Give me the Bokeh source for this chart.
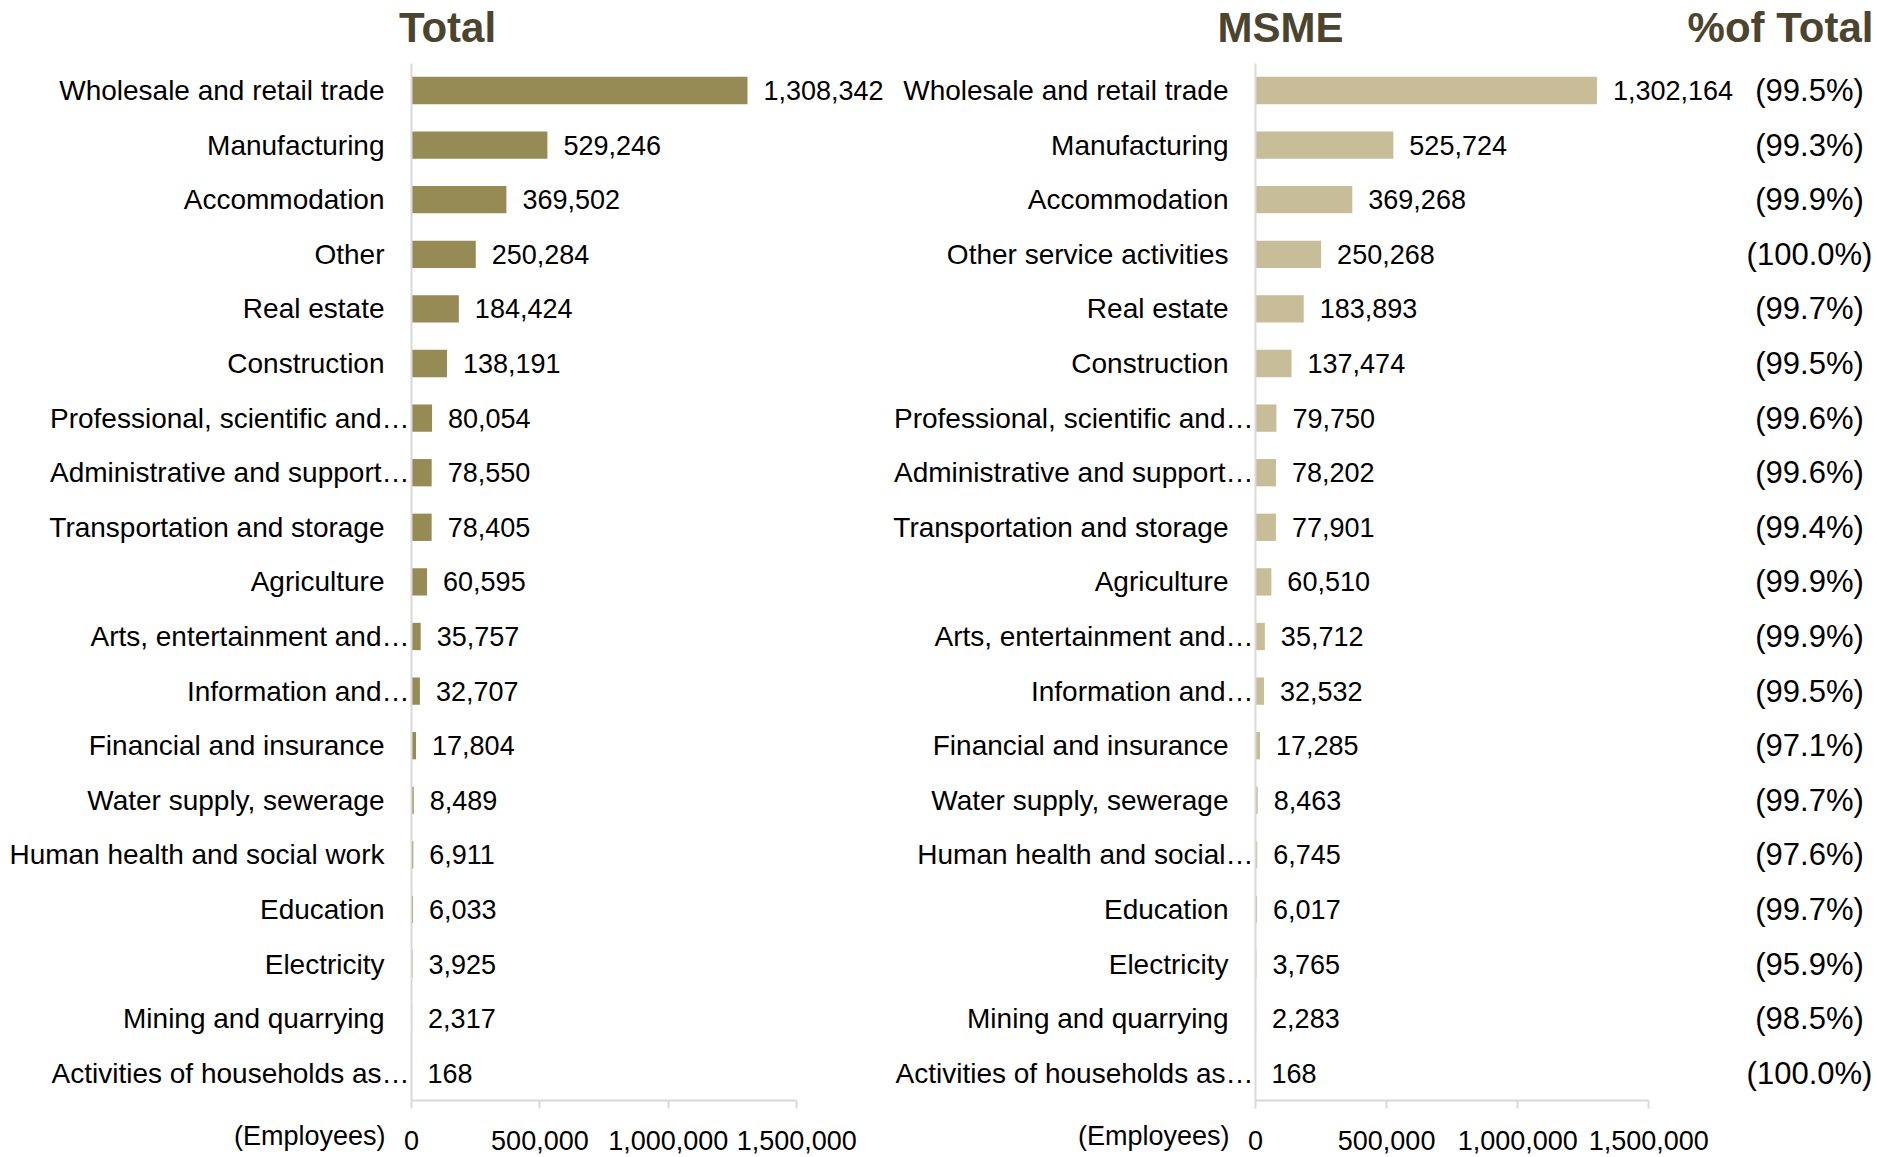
from bokeh.plotting import figure
from bokeh.models import ColumnDataSource, Range1d, FixedTicker, NumeralTickFormatter
from bokeh.layouts import row
from bokeh.embed import file_html
from bokeh.resources import INLINE
from bokeh.core.properties import value

# ---------------- data ----------------
categories_total = [
    "Wholesale and retail trade", "Manufacturing", "Accommodation", "Other",
    "Real estate", "Construction", "Professional, scientific and…",
    "Administrative and support…", "Transportation and storage", "Agriculture",
    "Arts, entertainment and…", "Information and…", "Financial and insurance",
    "Water supply, sewerage", "Human health and social work", "Education",
    "Electricity", "Mining and quarrying", "Activities of households as…",
]
categories_msme = [
    "Wholesale and retail trade", "Manufacturing", "Accommodation", "Other service activities",
    "Real estate", "Construction", "Professional, scientific and…",
    "Administrative and support…", "Transportation and storage", "Agriculture",
    "Arts, entertainment and…", "Information and…", "Financial and insurance",
    "Water supply, sewerage", "Human health and social…", "Education",
    "Electricity", "Mining and quarrying", "Activities of households as…",
]
total_employees = [1308342, 529246, 369502, 250284, 184424, 138191, 80054, 78550, 78405,
                   60595, 35757, 32707, 17804, 8489, 6911, 6033, 3925, 2317, 168]
msme_employees = [1302164, 525724, 369268, 250268, 183893, 137474, 79750, 78202, 77901,
                  60510, 35712, 32532, 17285, 8463, 6745, 6017, 3765, 2283, 168]
x_ticks = [0, 500000, 1000000, 1500000]
panel_titles = ["Total", "MSME", "%of Total"]
unit_label = "(Employees)"

pct_labels = ["({:.1f}%)".format(m / t * 100) for m, t in zip(msme_employees, total_employees)]

# ---------------- style / layout ----------------
FONT = "Liberation Sans"
TITLE_COLOR = "#4b4530"
AXIS_COLOR = "#d9d9d9"
H = 1155
N = len(categories_total)
ROW0 = 90.0      # pixel centre of first row
PITCH = 54.6     # pixels per row


def ydat(py):
    return (py - ROW0) / PITCH


def make_panel(cats, vals, color, fig_w, axis_px, px_per_unit):
    x0 = -axis_px / px_per_unit
    x1 = (fig_w - axis_px) / px_per_unit
    p = figure(width=fig_w, height=H, output_backend="svg", toolbar_location=None, title=None,
               x_range=Range1d(x0, x1), y_range=Range1d(ydat(H), ydat(0)),
               min_border_left=0, min_border_right=0, min_border_top=0, min_border_bottom=0)
    p.outline_line_color = None
    p.grid.visible = False
    p.background_fill_color = "white"
    p.border_fill_color = "white"

    ys = list(range(len(cats)))
    src = ColumnDataSource(dict(
        y=ys, v=vals, lab=["{:,}".format(v) for v in vals], cat=cats,
        off=[-2 if c.endswith("…") else -27 for c in cats],
    ))
    p.hbar(y="y", left=0, right="v", height=0.5, source=src, fill_color=color, line_color=None)
    p.text(x="v", y="y", text="lab", source=src, x_offset=16, text_baseline="middle",
           text_align="left", text_font=value(FONT), text_font_size="27px", text_color="black")
    p.text(x=0, y="y", text="cat", source=src, x_offset="off", text_align="right",
           text_baseline="middle", text_font=value(FONT), text_font_size="28px",
           text_color="black")

    # x axis, fixed at the bottom of the rows
    xa = p.xaxis[0]
    xa.fixed_location = N - 0.5
    xa.ticker = FixedTicker(ticks=x_ticks)
    xa.bounds = (x_ticks[0], x_ticks[-1])
    xa.formatter = NumeralTickFormatter(format="0,0")
    xa.axis_line_color = AXIS_COLOR
    xa.axis_line_width = 2
    xa.major_tick_line_color = AXIS_COLOR
    xa.major_tick_line_width = 2
    xa.major_tick_out = 8
    xa.major_tick_in = 0
    xa.minor_tick_out = 0
    xa.minor_tick_in = 0
    xa.major_label_standoff = 22
    xa.major_label_text_font = FONT
    xa.major_label_text_font_size = "27px"
    xa.major_label_text_color = "black"

    # y axis (line only), fixed at x = 0
    ya = p.yaxis[0]
    ya.fixed_location = 0
    ya.ticker = FixedTicker(ticks=[])
    ya.bounds = (-0.5, N - 0.5)
    ya.axis_line_color = AXIS_COLOR
    ya.axis_line_width = 2
    ya.major_tick_out = 0
    ya.major_tick_in = 0
    ya.minor_tick_out = 0
    ya.minor_tick_in = 0

    p.text(x=[0], y=[ydat(1135)], text=[unit_label], x_offset=-26, text_align="right",
           text_baseline="middle", text_font=value(FONT), text_font_size="27px",
           text_color="black")
    return p


# left panel: page x 0..890, value axis at page 411
px1 = 128.4 / 500000
p1 = make_panel(categories_total, total_employees, "#978b55", 890, 411, px1)
p1.text(x=[(447 - 411) / px1], y=[ydat(27)], text=[panel_titles[0]], text_align="center",
        text_baseline="middle", text_font=value(FONT), text_font_size="42px",
        text_font_style="bold", text_color=TITLE_COLOR)

# right panel: page x 890..1877, value axis at page 1255
px2 = 131.1 / 500000
p2 = make_panel(categories_msme, msme_employees, "#c7bd98", 987, 1255 - 890, px2)
p2.text(x=[(1280 - 1255) / px2, (1780 - 1255) / px2], y=[ydat(27), ydat(27)],
        text=panel_titles[1:], text_align="center", text_baseline="middle",
        text_font=value(FONT), text_font_size="42px", text_font_style="bold",
        text_color=TITLE_COLOR)
pct_src = ColumnDataSource(dict(y=list(range(N)), t=pct_labels))
p2.text(x=(1809 - 1255) / px2, y="y", text="t", source=pct_src, text_align="center",
        text_baseline="middle", text_font=value(FONT), text_font_size="31px",
        text_color="black")

layout = row(p1, p2)
open("out.html", "w").write(file_html(layout, INLINE))
